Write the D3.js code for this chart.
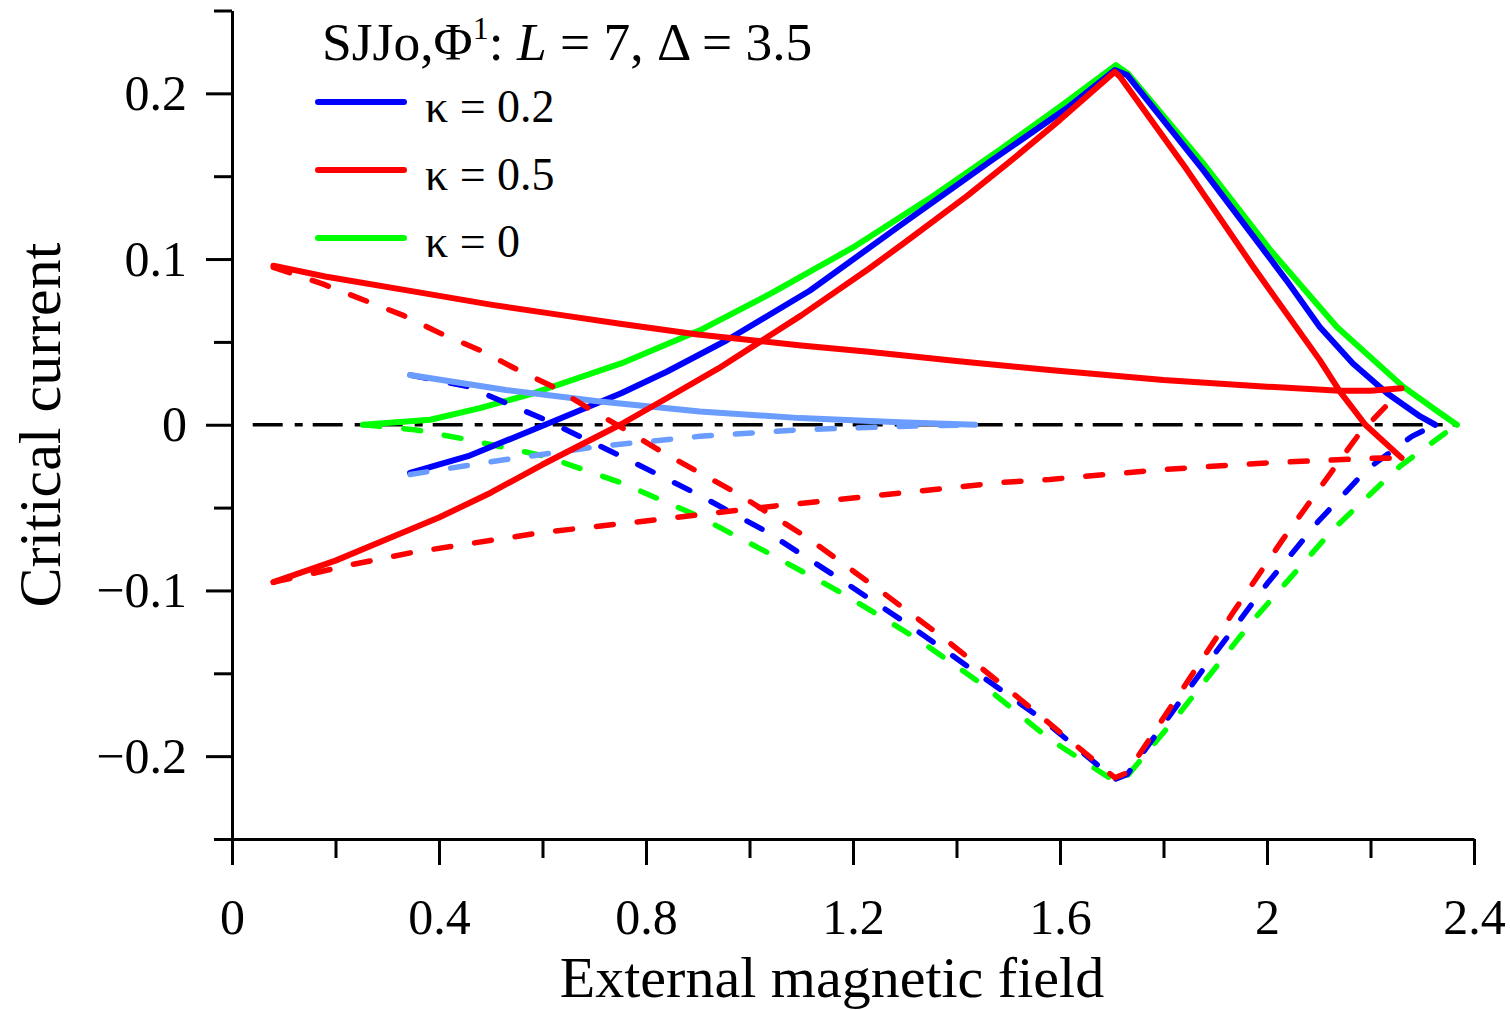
<!DOCTYPE html>
<html>
<head>
<meta charset="utf-8">
<script src="https://cdn.jsdelivr.net/npm/d3@7"></script>
<style>
  html, body { margin: 0; padding: 0; background: #ffffff; }
  svg { display: block; }
  text { font-family: "Liberation Serif", "Times New Roman", serif; fill: #000; }
</style>
</head>
<body>
<script>
// ---------- DATA ----------
const xMajorTicks = [0, 0.4, 0.8, 1.2, 1.6, 2, 2.4];
const xMinorTicks = [0.2, 0.6, 1.0, 1.4, 1.8, 2.2];
const yMajorTicks = [-0.2, -0.1, 0, 0.1, 0.2];
const yMinorTicks = [-0.25, -0.15, -0.05, 0.05, 0.15, 0.25];
const xTickLabels = ["0", "0.4", "0.8", "1.2", "1.6", "2", "2.4"];
const yTickLabels = ["\u22120.2", "\u22120.1", "0", "0.1", "0.2"];

const legendLabels = ["\u03BA = 0.2", "\u03BA = 0.5", "\u03BA = 0"];

// kappa = 0.5 (red)
const redUpperX = [0.08, 0.18, 0.35, 0.5, 0.64, 0.75, 0.9, 1.1, 1.23, 1.4, 1.58, 1.8, 2.0, 2.14, 2.2, 2.26];
const redUpperY = [0.096, 0.0895, 0.0805, 0.0725, 0.066, 0.061, 0.0545, 0.0478, 0.044, 0.0385, 0.033, 0.027, 0.023, 0.0205, 0.0205, 0.022];
const redLowerDashX = [0.08, 0.23, 0.35, 0.6, 0.83, 1.05, 1.3, 1.48, 1.58, 1.8, 2.0, 2.22, 2.26];
const redLowerDashY = [-0.095, -0.0845, -0.077, -0.065, -0.057, -0.049, -0.041, -0.035, -0.033, -0.027, -0.023, -0.020, -0.0205];
const redRiseX = [0.08, 0.2, 0.3, 0.4, 0.5, 0.6, 0.7, 0.75, 0.84, 0.94, 1.02, 1.1, 1.23, 1.3, 1.42, 1.5, 1.6, 1.706, 1.716, 1.845, 1.973, 2.102, 2.141, 2.19, 2.26];
const redRiseY = [-0.095, -0.082, -0.069, -0.056, -0.041, -0.024, -0.008, 0, 0.016, 0.034, 0.050, 0.066, 0.094, 0.110, 0.138, 0.158, 0.184, 0.213, 0.210, 0.154, 0.0955, 0.039, 0.020, 0, -0.020];
const redFallDashX = [0.08, 0.175, 0.257, 0.331, 0.404, 0.479, 0.553, 0.62, 0.694, 0.76, 0.834, 0.974, 1.111, 1.239, 1.372, 1.497, 1.625, 1.706, 1.73, 1.935, 2.031, 2.128, 2.177, 2.26];
const redFallDashY = [0.095, 0.085, 0.075, 0.066, 0.055, 0.045, 0.033, 0.023, 0.009, -0.003, -0.017, -0.041, -0.068, -0.097, -0.128, -0.159, -0.192, -0.213, -0.210, -0.113, -0.069, -0.027, -0.006, 0.021];

// kappa = 0.2 (blue)
const blueSolidX = [0.344, 0.456, 0.605, 0.752, 0.84, 0.956, 1.117, 1.29, 1.47, 1.613, 1.706, 1.73, 1.876, 1.973, 2.038, 2.102, 2.166, 2.232, 2.296, 2.325];
const blueSolidY = [-0.029, -0.019, 0, 0.019, 0.032, 0.051, 0.081, 0.120, 0.160, 0.191, 0.214, 0.211, 0.154, 0.114, 0.087, 0.059, 0.037, 0.019, 0.005, 0];
const blueDashX = [0.344, 0.456, 0.605, 0.752, 0.9, 1.03, 1.169, 1.304, 1.436, 1.567, 1.706, 1.73, 1.871, 2.0, 2.1, 2.193, 2.28, 2.325];
const blueDashY = [0.030, 0.023, 0.003, -0.019, -0.042, -0.064, -0.092, -0.120, -0.149, -0.178, -0.214, -0.211, -0.150, -0.096, -0.058, -0.027, -0.007, 0];
const lightBlueX = [0.344, 0.529, 0.711, 0.904, 1.098, 1.29, 1.436];
const lightBlueSolidY = [0.030, 0.021, 0.014, 0.008, 0.004, 0.0015, 0];
const lightBlueDashY = [-0.030, -0.021, -0.013, -0.007, -0.003, -0.001, 0];

// kappa = 0 (green)
const greenSolidX = [0.253, 0.383, 0.479, 0.582, 0.752, 0.904, 1.046, 1.2, 1.355, 1.484, 1.6, 1.708, 1.731, 1.876, 2.006, 2.135, 2.263, 2.33, 2.367];
const greenSolidY = [0, 0.003, 0.010, 0.019, 0.037, 0.057, 0.080, 0.107, 0.138, 0.166, 0.192, 0.217, 0.212, 0.158, 0.1056, 0.059, 0.023, 0.008, 0];
const greenDashX = [0.253, 0.353, 0.456, 0.605, 0.752, 0.9, 1.043, 1.181, 1.323, 1.451, 1.581, 1.71, 1.73, 1.826, 1.973, 2.128, 2.257, 2.34, 2.367];
const greenDashY = [0, -0.003, -0.009, -0.019, -0.035, -0.055, -0.0785, -0.102, -0.129, -0.157, -0.190, -0.216, -0.212, -0.176, -0.118, -0.063, -0.025, -0.006, 0];

const zeroLineX = [0.04, 2.37];

// ---------- CHART ----------
const W = 1510, H = 1010;
const svg = d3.select("body").append("svg").attr("width", W).attr("height", H);

const x = d3.scaleLinear().domain([0, 2.4]).range([232, 1474]);
const y = d3.scaleLinear().domain([-0.25, 0.25]).range([839, 10.5]);

const COLORS = { red: "#ff0000", blue: "#0000ff", green: "#00ff00", light: "#6b9cff" };

const zip = (xs, ys) => xs.map((v, i) => [v, ys[i]]);
const line = d3.line().x(d => x(d[0])).y(d => y(d[1])).curve(d3.curveLinear);

// zero dash-dot line
svg.append("path")
  .attr("d", line(zeroLineX.map(v => [v, 0])))
  .attr("fill", "none").attr("stroke", "#000").attr("stroke-width", 3.5)
  .attr("stroke-dasharray", "30,12,8,10");

// series
const series = [
  { xs: greenDashX, ys: greenDashY, c: COLORS.green, dash: true },
  { xs: greenSolidX, ys: greenSolidY, c: COLORS.green, dash: false },
  { xs: blueDashX, ys: blueDashY, c: COLORS.blue, dash: true },
  { xs: blueSolidX, ys: blueSolidY, c: COLORS.blue, dash: false },
  { xs: lightBlueX, ys: lightBlueDashY, c: COLORS.light, dash: true },
  { xs: lightBlueX, ys: lightBlueSolidY, c: COLORS.light, dash: false },
  { xs: redLowerDashX, ys: redLowerDashY, c: COLORS.red, dash: true },
  { xs: redFallDashX, ys: redFallDashY, c: COLORS.red, dash: true },
  { xs: redUpperX, ys: redUpperY, c: COLORS.red, dash: false },
  { xs: redRiseX, ys: redRiseY, c: COLORS.red, dash: false }
];

svg.append("g").selectAll("path").data(series).join("path")
  .attr("d", s => line(zip(s.xs, s.ys)))
  .attr("fill", "none")
  .attr("stroke", s => s.c)
  .attr("stroke-width", s => s.dash ? 5.5 : 6)
  .attr("stroke-linecap", "round")
  .attr("stroke-linejoin", "round")
  .attr("stroke-dasharray", s => s.dash ? "17,24" : null);

// axes
function styleAxis(g) {
  g.selectAll(".domain").attr("stroke", "#000").attr("stroke-width", 3);
  g.selectAll(".tick line").attr("stroke", "#000").attr("stroke-width", 3);
  g.selectAll(".tick text")
    .attr("fill", "#000")
    .style("font-family", '"Liberation Serif", "Times New Roman", serif')
    .style("font-size", "50px");
}

const yAxisG = svg.append("g").attr("transform", `translate(${x(0)},0)`)
  .call(d3.axisLeft(y).tickValues(yMajorTicks).tickSize(26).tickPadding(19).tickSizeOuter(0)
    .tickFormat((d, i) => yTickLabels[i]));
styleAxis(yAxisG);
const yMinorG = svg.append("g").attr("transform", `translate(${x(0)},0)`)
  .call(d3.axisLeft(y).tickValues(yMinorTicks).tickSize(18).tickSizeOuter(0).tickFormat(""));
yMinorG.select(".domain").remove();
styleAxis(yMinorG);

const xAxisG = svg.append("g").attr("transform", `translate(0,${y(-0.25)})`)
  .call(d3.axisBottom(x).tickValues(xMajorTicks).tickSize(26).tickPadding(33).tickSizeOuter(0)
    .tickFormat((d, i) => xTickLabels[i]));
styleAxis(xAxisG);
const xMinorG = svg.append("g").attr("transform", `translate(0,${y(-0.25)})`)
  .call(d3.axisBottom(x).tickValues(xMinorTicks).tickSize(19).tickSizeOuter(0).tickFormat(""));
xMinorG.select(".domain").remove();
styleAxis(xMinorG);

// axis titles
svg.append("text")
  .attr("transform", "translate(60,425) rotate(-90)")
  .attr("text-anchor", "middle")
  .style("font-size", "60px")
  .text("Critical current");

svg.append("text")
  .attr("x", 832).attr("y", 997)
  .attr("text-anchor", "middle")
  .style("font-size", "58px")
  .text("External magnetic field");

// legend title
const title = svg.append("text").attr("x", 322).attr("y", 60).style("font-size", "53.5px");
title.append("tspan").text("SJJo,\u03A6");
title.append("tspan").attr("dy", -21).style("font-size", "32px").text("1");
title.append("tspan").attr("dy", 21).text(": ");
title.append("tspan").style("font-style", "italic").text("L");
title.append("tspan").text(" = 7, \u0394 = 3.5");

// legend entries
const legendColors = [COLORS.blue, COLORS.red, COLORS.green];
const legendLineY = [102, 170, 238];
const legendTextY = [122, 190, 257];
const lg = svg.append("g");
legendLabels.forEach((lab, i) => {
  lg.append("line")
    .attr("x1", 318).attr("x2", 404)
    .attr("y1", legendLineY[i]).attr("y2", legendLineY[i])
    .attr("stroke", legendColors[i]).attr("stroke-width", 6).attr("stroke-linecap", "round");
  lg.append("text").attr("x", 425).attr("y", legendTextY[i]).style("font-size", "46px").text(lab);
});
</script>
</body>
</html>
